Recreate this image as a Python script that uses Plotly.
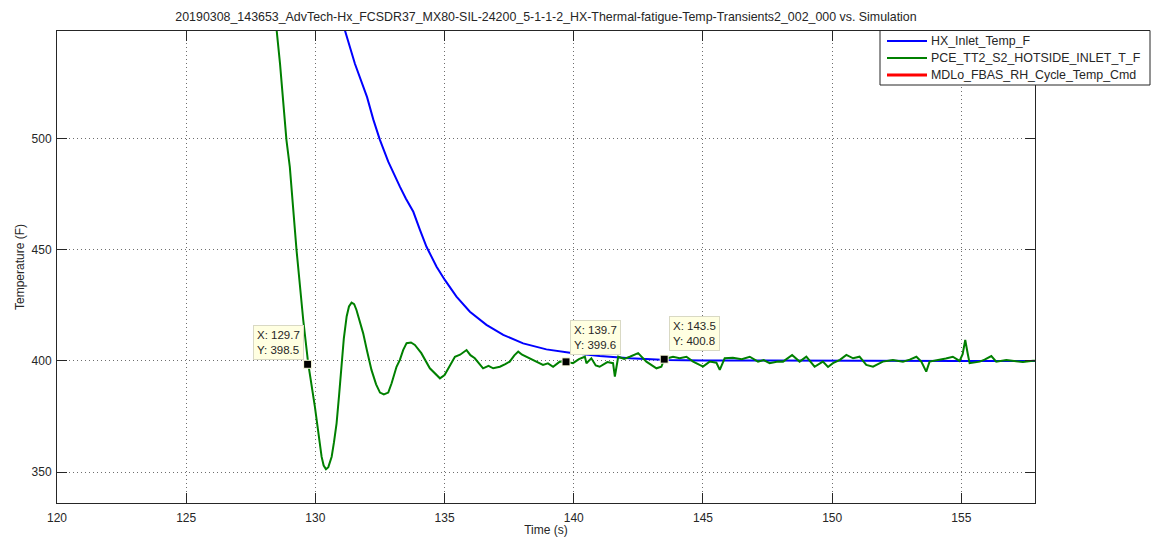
import plotly.graph_objects as go

# ---------------- data ----------------
hx_time = [131.0, 131.14, 131.53, 131.85, 132.0, 132.24, 132.49, 132.82, 133.05, 133.27, 133.5, 133.66, 133.79,
           134.05, 134.3, 134.69, 135.01, 135.46, 135.98, 136.62, 137.27, 138.04, 138.94, 139.85, 141.0,
           142.17, 143.6, 145.0, 147.0, 150.0, 155.0, 158.0]
hx_temp = [555.0, 548.6, 533.5, 523.5, 518.5, 508.5, 499.5, 489.5, 483.5, 478.3, 473.0, 470.0, 467.0,
           458.8, 451.3, 442.3, 436.4, 428.9, 422.1, 416.2, 411.7, 407.9, 405.2, 403.7, 402.2,
           401.2, 400.4, 400.2, 400.1, 400.0, 400.0, 400.0]

pce_time = [128.4, 128.5, 128.63, 128.88, 129.01, 129.27, 129.53, 129.72, 129.98, 130.1, 130.24, 130.32, 130.41,
            130.5, 130.63, 130.72, 130.82, 130.92, 131.01, 131.1, 131.21, 131.3, 131.4, 131.5, 131.59, 131.7,
            131.85, 132.0, 132.17, 132.35, 132.5, 132.65, 132.82, 132.95, 133.14,
            133.27, 133.4, 133.53, 133.7, 133.85, 134.1, 134.43, 134.82, 135.0, 135.2, 135.4, 135.6, 135.85, 136.0,
            136.17, 136.49, 136.7, 136.88, 137.14, 137.35, 137.52, 137.7, 137.85, 138.0, 138.17, 138.43, 138.6,
            138.81, 139.0, 139.2, 139.46, 139.7, 139.97,
            140.2, 140.43, 140.49, 140.68, 140.85, 141.0, 141.3, 141.52, 141.59, 141.72, 141.95, 142.17, 142.49,
            142.81, 143.2, 143.39, 143.5, 143.84, 144.1, 144.36, 144.62, 144.87, 145.0, 145.26, 145.52,
            145.65, 145.84, 146.16, 146.5, 146.81, 147.13, 147.35, 147.58, 147.9, 148.1, 148.45, 148.74,
            149.0, 149.32, 149.64, 149.84, 150.03, 150.3, 150.55, 150.81, 151.06, 151.32, 151.58,
            151.96, 152.35, 152.74, 153.0, 153.26, 153.45, 153.64, 153.77, 154.16, 154.4, 154.67, 154.93,
            155.05, 155.15, 155.25, 155.32, 155.71, 155.9, 156.16, 156.35, 156.74, 157.0, 157.38, 157.77, 158.0]
pce_temp = [553.0, 548.6, 533.7, 499.2, 487.2, 449.8, 418.4, 399.0, 379.5, 369.0, 357.0, 353.0, 351.4,
            352.3, 357.0, 363.5, 372.0, 385.0, 399.0, 410.0, 420.0, 424.5, 426.2, 425.5, 422.9, 418.5,
            412.4, 404.5, 396.0, 389.5, 385.8, 385.0, 385.8, 390.0, 397.4,
            400.5, 405.0, 408.0, 408.3, 407.2, 403.5, 396.7, 392.2, 393.7, 397.5, 401.9, 402.8, 404.9, 402.6,
            401.2, 396.7, 397.8, 396.7, 397.4, 398.6, 399.7, 402.5, 404.2, 402.8, 401.9, 400.4, 399.3,
            398.2, 398.9, 397.4, 399.7, 399.6, 399.0,
            400.8, 401.9, 399.0, 401.2, 398.0, 397.4, 399.5, 399.0, 393.0, 401.9, 400.9, 401.9, 403.5,
            399.7, 396.7, 397.4, 400.8, 401.9, 401.2, 401.9, 399.7, 398.2, 397.5, 399.7, 399.2,
            396.0, 401.2, 401.4, 400.8, 401.9, 399.7, 400.4, 399.0, 399.8, 399.7, 402.7, 399.7,
            401.9, 397.4, 399.7, 397.3, 399.0, 400.5, 402.7, 401.2, 401.9, 398.2, 397.4,
            399.7, 400.4, 399.7, 400.6, 401.9, 399.7, 395.2, 399.7, 400.4, 401.1, 401.9, 400.0,
            403.0, 409.4, 403.0, 399.0, 399.7, 400.6, 402.2, 399.7, 400.4, 400.0, 399.5, 400.1, 400.0]

# command trace: listed in the legend, no samples visible in this window
cmd_time = [None]
cmd_temp = [None]

series_names = ["HX_Inlet_Temp_F", "PCE_TT2_S2_HOTSIDE_INLET_T_F", "MDLo_FBAS_RH_Cycle_Temp_Cmd"]
series_colors = ["#0000ff", "#008000", "#ff0000"]
series_widths = [2, 2, 3]

tip_x = [129.7, 139.7, 143.5]
tip_y = [398.5, 399.6, 400.8]

x_ticks = [120, 125, 130, 135, 140, 145, 150, 155]
y_ticks = [350, 400, 450, 500]

title_text = "20190308_143653_AdvTech-Hx_FCSDR37_MX80-SIL-24200_5-1-1-2_HX-Thermal-fatigue-Temp-Transients2_002_000 vs. Simulation"

FONT = "Arial, Liberation Sans, Helvetica, sans-serif"
TXT = "#262626"

# plot-area geometry (pixels)
L, R, T, B = 57, 1035, 31, 503
W, H = R - L, B - T


def px(xp):
    return (xp - L) / W


def py(yp):
    return 1 - (yp - T) / H


fig = go.Figure()
for (xs, ys), nm, col, lw in zip([(hx_time, hx_temp), (pce_time, pce_temp), (cmd_time, cmd_temp)],
                                 series_names, series_colors, series_widths):
    fig.add_trace(go.Scatter(x=xs, y=ys, mode="lines", name=nm, showlegend=False,
                             line=dict(color=col, width=lw)))
fig.add_trace(go.Scatter(x=tip_x, y=tip_y, mode="markers", showlegend=False,
                         marker=dict(symbol="square", size=8, color="black",
                                     line=dict(color="#ffffe1", width=1))))

shifts = [(-4, 4, "right"), (4, 7, "left"), (5, 8, "left")]
for (tx, ty), (xs, ys, xa) in zip(zip(tip_x, tip_y), shifts):
    fig.add_annotation(x=tx, y=ty, xref="x", yref="y", showarrow=False,
                       text=f"X: {tx:.1f}<br>Y: {ty:.1f}", align="left",
                       xanchor=xa, yanchor="bottom", xshift=xs, yshift=ys,
                       font=dict(family=FONT, size=11.5, color=TXT),
                       bgcolor="#ffffe1", bordercolor="#d9d9c4", borderwidth=1, borderpad=3)

# legend box (MATLAB style)
fig.add_shape(type="rect", xref="paper", yref="paper",
              x0=px(880), x1=px(1150), y0=py(85), y1=py(30.5),
              line=dict(color=TXT, width=1), fillcolor="white", layer="above")
for i, (nm, col, lw) in enumerate(zip(series_names, series_colors, series_widths)):
    yc = 41 + 17 * i
    fig.add_shape(type="line", xref="paper", yref="paper",
                  x0=px(887), x1=px(927), y0=py(yc), y1=py(yc),
                  line=dict(color=col, width=lw), layer="above")
    fig.add_annotation(x=px(929), y=py(yc), xref="paper", yref="paper", showarrow=False,
                       text=nm, xanchor="left", yanchor="middle",
                       font=dict(family=FONT, size=12.4, color=TXT))

axis_common = dict(showline=True, linecolor=TXT, linewidth=1, mirror="ticks",
                   ticks="inside", ticklen=10, tickcolor=TXT, tickwidth=1,
                   showgrid=True, gridcolor="#6e6e6e", griddash="1px,3px", gridwidth=1,
                   zeroline=False, tickfont=dict(family=FONT, size=12, color=TXT))

fig.update_xaxes(range=[120, 157.85], tickvals=x_ticks, ticktext=[str(v) for v in x_ticks],
                 ticklabelstandoff=4,
                 title=dict(text="Time (s)", font=dict(family=FONT, size=12, color=TXT), standoff=0),
                 **axis_common)
fig.update_yaxes(range=[336.2, 548.2], tickvals=y_ticks, ticktext=[str(v) for v in y_ticks],
                 ticklabelstandoff=2,
                 title=dict(text="Temperature (F)", font=dict(family=FONT, size=12, color=TXT), standoff=4),
                 **axis_common)

fig.update_layout(
    width=1151, height=537, autosize=False,
    margin=dict(l=L, r=1151 - R, t=T, b=537 - B, autoexpand=False),
    paper_bgcolor="white", plot_bgcolor="white",
    title=dict(text=title_text, x=0.5, xref="paper", y=1 - 17 / 537, yref="container",
               xanchor="center", yanchor="middle", font=dict(family=FONT, size=12.4, color=TXT)),
    showlegend=False,
)

fig.write_html("out.html", config={"displayModeBar": False},
               post_script="document.body.style.margin='0px';document.body.style.overflow='hidden';")
